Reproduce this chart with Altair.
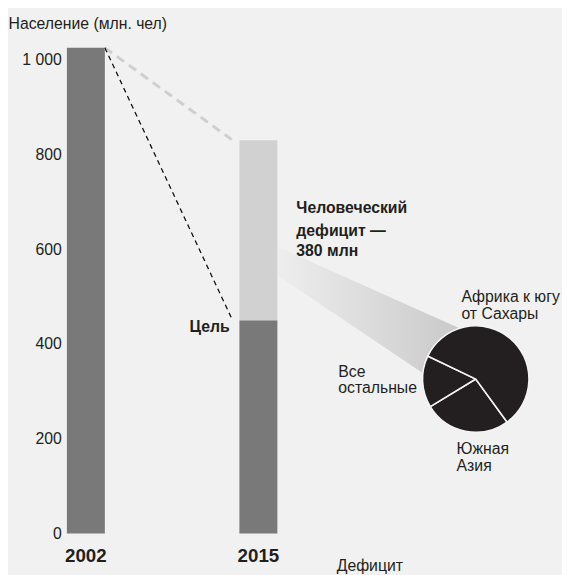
import altair as alt
import pandas as pd

FONT = "Liberation Sans, Arial, sans-serif"
INK = "#231f20"

# ---- data ----
years = ["2002", "2015"]
year_pos = [0, 1]
population = [1025, 830]          # млн. чел
goal_2015 = 450
deficit = 380
regions = ["Южная Азия", "Все остальные", "Африка к югу от Сахары"]
region_values = [100, 60, 220]
y_ticks = [0, 200, 400, 600, 800, 1000]

# ---- layout constants (data units) ----
half_w = 0.11
pie_x, pie_y = 2.26, 326

bars = pd.DataFrame({
    "year": ["2002", "2015", "2015"],
    "x0": [year_pos[0] - half_w, year_pos[1] - half_w, year_pos[1] - half_w],
    "x1": [year_pos[0] + half_w, year_pos[1] + half_w, year_pos[1] + half_w],
    "y0": [0, 0, goal_2015],
    "y1": [population[0], goal_2015, population[1]],
    "part": ["done", "done", "gap"],
})

lines = pd.DataFrame({
    "x0": [year_pos[0] + half_w, year_pos[0] + half_w],
    "y0": [population[0], population[0]],
    "x1": [0.85, 0.85],
    "y1": [goal_2015, population[1]],
    "kind": ["goal", "actual"],
})

funnel = pd.DataFrame({
    "x": [year_pos[1] + half_w, pie_x],
    "top": [605, 418],
    "bottom": [545, 263],
})

pie = pd.DataFrame({
    "region": regions,
    "value": region_values,
    "ord": [0, 1, 2],
    "x": [pie_x] * 3,
    "y": [pie_y] * 3,
})

bold_labels = pd.DataFrame({
    "t": ["Человеческий", "дефицит —", f"{deficit} млн"],
    "x": [1.22, 1.22, 1.22],
    "y": [686, 639, 595],
})
goal_label = pd.DataFrame({"t": ["Цель"], "x": [0.834], "y": [435]})
year_labels = pd.DataFrame({"t": years, "x": year_pos, "y": [-48, -48]})
reg_labels = pd.DataFrame({
    "t": ["Африка к югу", "от Сахары", "Все", "остальные", "Южная", "Азия", "Дефицит"],
    "x": [2.177, 2.177, 1.463, 1.463, 2.149, 2.149, 1.454],
    "y": [499, 464, 341, 306, 179, 143, -69],
})

xs = alt.Scale(domain=[-0.12, 2.68], nice=False, zero=False)
ys = alt.Scale(domain=[0, 1040], nice=False, zero=False)

X = lambda f: alt.X(f, type="quantitative", scale=xs, axis=None)

area = alt.Chart(funnel).mark_area(
    color=alt.Gradient(
        gradient="linear",
        stops=[alt.GradientStop(color="#eeeeee", offset=0),
               alt.GradientStop(color="#c6c6c6", offset=1)],
        x1=0, x2=1, y1=0, y2=0),
).encode(
    x=X("x"),
    y=alt.Y("top:Q", scale=ys,
            axis=alt.Axis(values=y_ticks, domain=False, ticks=False, grid=False,
                          labelExpr="replace(format(datum.value, ','), ',', ' ')",
                          labelFont=FONT, labelFontSize=16, labelColor=INK,
                          labelPadding=4,
                          title="Население (млн. чел)", titleAngle=0,
                          titleAlign="left", titleBaseline="middle",
                          titleX=-58, titleY=-17, titleFont=FONT,
                          titleFontSize=16, titleFontWeight="normal",
                          titleColor=INK)),
    y2="bottom:Q",
)

bar = alt.Chart(bars).mark_rect().encode(
    x=X("x0"), x2="x1",
    y=alt.Y("y0:Q", scale=ys), y2="y1",
    color=alt.Color("part:N", scale=alt.Scale(domain=["done", "gap"],
                                              range=["#797979", "#d1d1d1"]),
                    legend=None),
)

rule_goal = alt.Chart(lines[lines.kind == "goal"]).mark_rule(
    color="#111111", strokeWidth=1.3, strokeDash=[5, 4]
).encode(x=X("x0"), x2="x1", y=alt.Y("y0:Q", scale=ys), y2="y1")

rule_act = alt.Chart(lines[lines.kind == "actual"]).mark_rule(
    color="#cfcfcf", strokeWidth=3, strokeDash=[9, 6]
).encode(x=X("x0"), x2="x1", y=alt.Y("y0:Q", scale=ys), y2="y1")

start = 2.513
pie_chart = alt.Chart(pie).mark_arc(
    outerRadius=54, fill=INK, stroke="#f4f4f4", strokeWidth=1.6
).encode(
    x=X("x"), y=alt.Y("y:Q", scale=ys),
    theta=alt.Theta("value:Q", stack=True,
                    scale=alt.Scale(range=[start, start + 6.283185])),
    order=alt.Order("ord:Q"),
)

txt_bold = alt.Chart(bold_labels).mark_text(
    align="left", baseline="middle", font=FONT, fontSize=16,
    fontWeight="bold", color=INK
).encode(x=X("x"), y=alt.Y("y:Q", scale=ys), text="t:N")

txt_goal = alt.Chart(goal_label).mark_text(
    align="right", baseline="middle", font=FONT, fontSize=16,
    fontWeight="bold", color=INK
).encode(x=X("x"), y=alt.Y("y:Q", scale=ys), text="t:N")

txt_year = alt.Chart(year_labels).mark_text(
    align="center", baseline="middle", font=FONT, fontSize=19,
    fontWeight="bold", color=INK
).encode(x=X("x"), y=alt.Y("y:Q", scale=ys), text="t:N")

txt_reg = alt.Chart(reg_labels).mark_text(
    align="left", baseline="middle", font=FONT, fontSize=16, color=INK
).encode(x=X("x"), y=alt.Y("y:Q", scale=ys), text="t:N")

chart = alt.layer(
    area, bar, rule_act, rule_goal, pie_chart, txt_bold, txt_goal, txt_year, txt_reg
).properties(
    width=490, height=500,
    autosize=alt.AutoSizeParams(type="none"),
    padding={"left": 58, "top": 29, "right": 14, "bottom": 38},
    background="#f1f1f1",
).configure_view(stroke=None)

chart.save("out.html", embed_options={"renderer": "svg", "actions": False})
